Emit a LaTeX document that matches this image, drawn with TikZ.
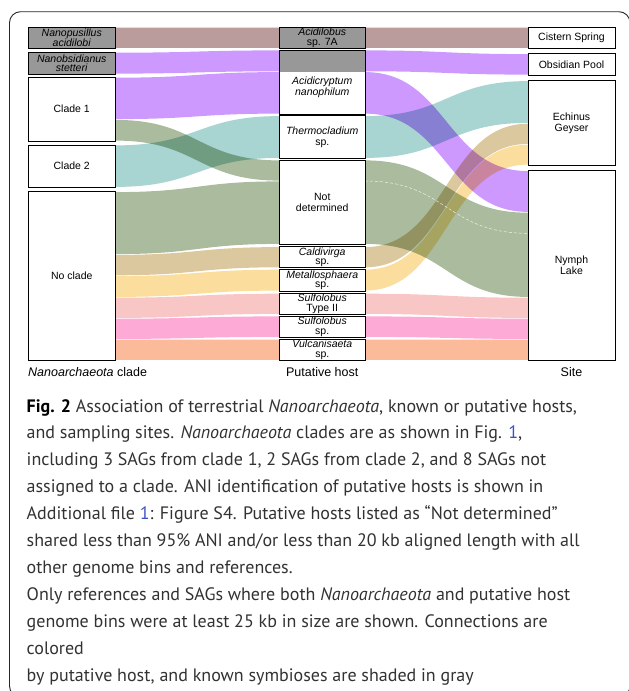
\documentclass[tikz,border=0pt]{standalone}
\usepackage{fontspec}
\setmainfont{Liberation Sans}
\newfontfamily\capfont{PT Sans}
\usepackage{xcolor}
\usetikzlibrary{positioning}

\definecolor{boxgray}{RGB}{152,152,152}
\definecolor{rosyflow}{RGB}{186,156,156}
\definecolor{purpleflow}{RGB}{205,153,255}
\definecolor{greenflow}{RGB}{170,188,157}
\definecolor{tealflow}{RGB}{168,212,210}
\definecolor{tanflow}{RGB}{220,200,158}
\definecolor{yellowflow}{RGB}{251,222,157}
\definecolor{lpinkflow}{RGB}{248,198,196}
\definecolor{pinkflow}{RGB}{254,170,214}
\definecolor{salmonflow}{RGB}{251,187,155}
\definecolor{captext}{RGB}{50,50,50}
\definecolor{linkblue}{RGB}{60,80,200}

\tikzset{
  catbox/.style={draw=black, line width=0.7pt, fill=white, inner sep=0pt, outer sep=0pt,
    anchor=north west, align=center, font=\fontsize{10.5}{11}\selectfont},
  smallbox/.style={catbox, font=\fontsize{10.5}{9.6}\selectfont},
  axislabel/.style={inner sep=0pt, font=\fontsize{12.5}{14}\selectfont},
}

% band between two columns: colour, from node, top, bottom, to node, top, bottom
\newcommand{\band}[7]{%
  \fill[#1, blend mode=multiply] (#2.east |- 0,{#3+0.4}) .. controls +(82,0) and +(-82,0) .. (#5.west |- 0,{#6+0.4})
    -- (#5.west |- 0,{#7-0.4}) .. controls +(-82,0) and +(82,0) .. (#2.east |- 0,{#4-0.4}) -- cycle;}

\begin{document}
\begin{tikzpicture}[x=1pt,y=-1pt]
\useasboundingbox (0,0) rectangle (629,691);
\clip (0,0) rectangle (629,691);
% frame round the figure
\draw[line width=0.9pt, black!85, rounded corners=11pt] (9.5,11.7) rectangle (630,697);

% Nanoarchaeota clades
\node[smallbox, fill=boxgray, minimum width=87.5pt, minimum height=21pt] (npa) at (28,27.3) {\textit{Nanopusillus}\\\textit{acidilobi}};
\node[smallbox, fill=boxgray, minimum width=87.5pt, minimum height=21.7pt] (nst) at (28,52.3) {\textit{Nanobsidianus}\\\textit{stetteri}};
\node[catbox, minimum width=87.5pt, minimum height=63.7pt] (cl1) at (28,77.3) {Clade 1};
\node[catbox, minimum width=87.5pt, minimum height=42.3pt] (cl2) at (28,145) {Clade 2};
\node[catbox, minimum width=87.5pt, minimum height=168.6pt] (ncl) at (28,191.7) {No clade};

% putative hosts
\node[smallbox, fill=boxgray, minimum width=85.5pt, minimum height=21pt] (acs) at (279.5,27.3) {\textit{Acidilobus}\\sp. 7A};
\node[catbox, minimum width=85.5pt, minimum height=64pt,
  path picture={\fill[boxgray] (path picture bounding box.north west) rectangle ([yshift=-21.7pt]path picture bounding box.north east);}] (acn) at (279.5,50) {};
\node[catbox, minimum width=85.5pt, minimum height=42.6pt] (thm) at (279.5,115.7) {\textit{Thermocladium}\\sp.};
\node[catbox, minimum width=85.5pt, minimum height=84.3pt] (nd) at (279.5,160) {Not\\determined};
\node[smallbox, minimum width=85.5pt, minimum height=21pt] (cal) at (279.5,246.7) {\textit{Caldivirga}\\sp.};
\node[smallbox, minimum width=85.5pt, minimum height=21.7pt] (met) at (279.5,269.3) {\textit{Metallosphaera}\\sp.};
\node[smallbox, minimum width=85.5pt, minimum height=21pt] (stii) at (279.5,293.3) {\textit{Sulfolobus}\\Type II};
\node[smallbox, minimum width=85.5pt, minimum height=21.3pt] (ssp) at (279.5,316) {\textit{Sulfolobus}\\sp.};
\node[smallbox, minimum width=85.5pt, minimum height=21pt] (vul) at (279.5,339.3) {\textit{Vulcanisaeta}\\sp.};

% sites
\node[catbox, minimum width=87pt, minimum height=21pt] (cis) at (528,27.3) {Cistern Spring};
\node[catbox, minimum width=87pt, minimum height=21.3pt] (obs) at (528,53.7) {Obsidian Pool};
\node[catbox, minimum width=87pt, minimum height=84.3pt] (ech) at (528,80.7) {Echinus\\Geyser};
\node[catbox, minimum width=87pt, minimum height=189.6pt] (nym) at (528,170.7) {Nymph\\Lake};

% clade to host
\band{rosyflow}{npa}{27.3}{48.3}{acs}{27.3}{48.3}
\band{purpleflow}{nst}{52.3}{74}{acn}{50}{71.7}
\band{purpleflow}{cl1}{77.3}{119.5}{acn}{71.7}{114}
\band{greenflow}{cl1}{119.5}{141}{nd}{160}{181}
\band{tealflow}{cl2}{145}{187.3}{thm}{115.7}{158.3}
\band{greenflow}{ncl}{191.7}{254.5}{nd}{181}{244.3}
\band{tanflow}{ncl}{254.5}{275.7}{cal}{246.7}{267.7}
\band{yellowflow}{ncl}{275.7}{297.3}{met}{269.3}{291}
\band{lpinkflow}{ncl}{297.3}{318.3}{stii}{293.3}{314.3}
\band{pinkflow}{ncl}{318.3}{339.3}{ssp}{316}{337.3}
\band{salmonflow}{ncl}{339.3}{360.3}{vul}{339.3}{360.3}

% host to site
\band{rosyflow}{acs}{27.3}{48.3}{cis}{27.3}{48.3}
\band{purpleflow}{acn}{50}{71.7}{obs}{53.7}{75}
\band{purpleflow}{acn}{71.7}{114}{nym}{170.7}{212.3}
\band{tealflow}{thm}{115.7}{158.3}{ech}{80.7}{123.3}
\band{greenflow}{nd}{160}{244.3}{nym}{212.3}{297.3}
\band{tanflow}{cal}{246.7}{267.7}{ech}{123.3}{144.3}
\band{yellowflow}{met}{269.3}{291}{ech}{144.3}{165}
\band{lpinkflow}{stii}{293.3}{314.3}{nym}{297.3}{318.3}
\band{pinkflow}{ssp}{316}{337.3}{nym}{318.3}{339.3}
\band{salmonflow}{vul}{339.3}{360.3}{nym}{339.3}{360.3}
\draw[white, opacity=0.8, line width=0.5pt, dash pattern=on 3pt off 2pt] (nd.east |- 0,181) .. controls +(82,0) and +(-82,0) .. (nym.west |- 0,233.3);

% redraw the boxes over the bands
\foreach \b in {npa,nst,cl1,cl2,ncl,acs,acn,thm,nd,cal,met,stii,ssp,vul,cis,obs,ech,nym}
  \draw[line width=0.7pt] (\b.north west) rectangle (\b.south east);
\node[inner sep=0pt, align=center, font=\fontsize{10.5}{11}\selectfont] (acntext) at (322.25,87) {\textit{Acidicryptum}\\\textit{nanophilum}};

% column titles
\node[axislabel, below=7pt of ncl.south west, anchor=north west] (cladelab) {\textit{Nanoarchaeota} clade};
\node[axislabel, below=7pt of vul] (hostlab) {Putative host};
\node[axislabel, below=7pt of nym] (sitelab) {Site};

% caption
\node[anchor=north west, inner sep=0pt, align=left, text=captext,
  font=\capfont\fontsize{18}{26.9}\selectfont] (caption) at (26.5,399) {%
{\bfseries\color{black}Fig. 2} Association of terrestrial \textit{Nanoarchaeota}, known or putative hosts,\\
and sampling sites. \textit{Nanoarchaeota} clades are as shown in Fig. {\color{linkblue}1},\\
including 3 SAGs from clade 1, 2 SAGs from clade 2, and 8 SAGs not\\
assigned to a clade. ANI identification of putative hosts is shown in\\
Additional file {\color{linkblue}1}: Figure S4. Putative hosts listed as “Not determined”\\
shared less than 95\% ANI and/or less than 20 kb aligned length with all\\
other genome bins and references.\\
Only references and SAGs where both \textit{Nanoarchaeota} and putative host\\
genome bins were at least 25 kb in size are shown. Connections are\\
colored\\
by putative host, and known symbioses are shaded in gray};
\end{tikzpicture}
\end{document}
